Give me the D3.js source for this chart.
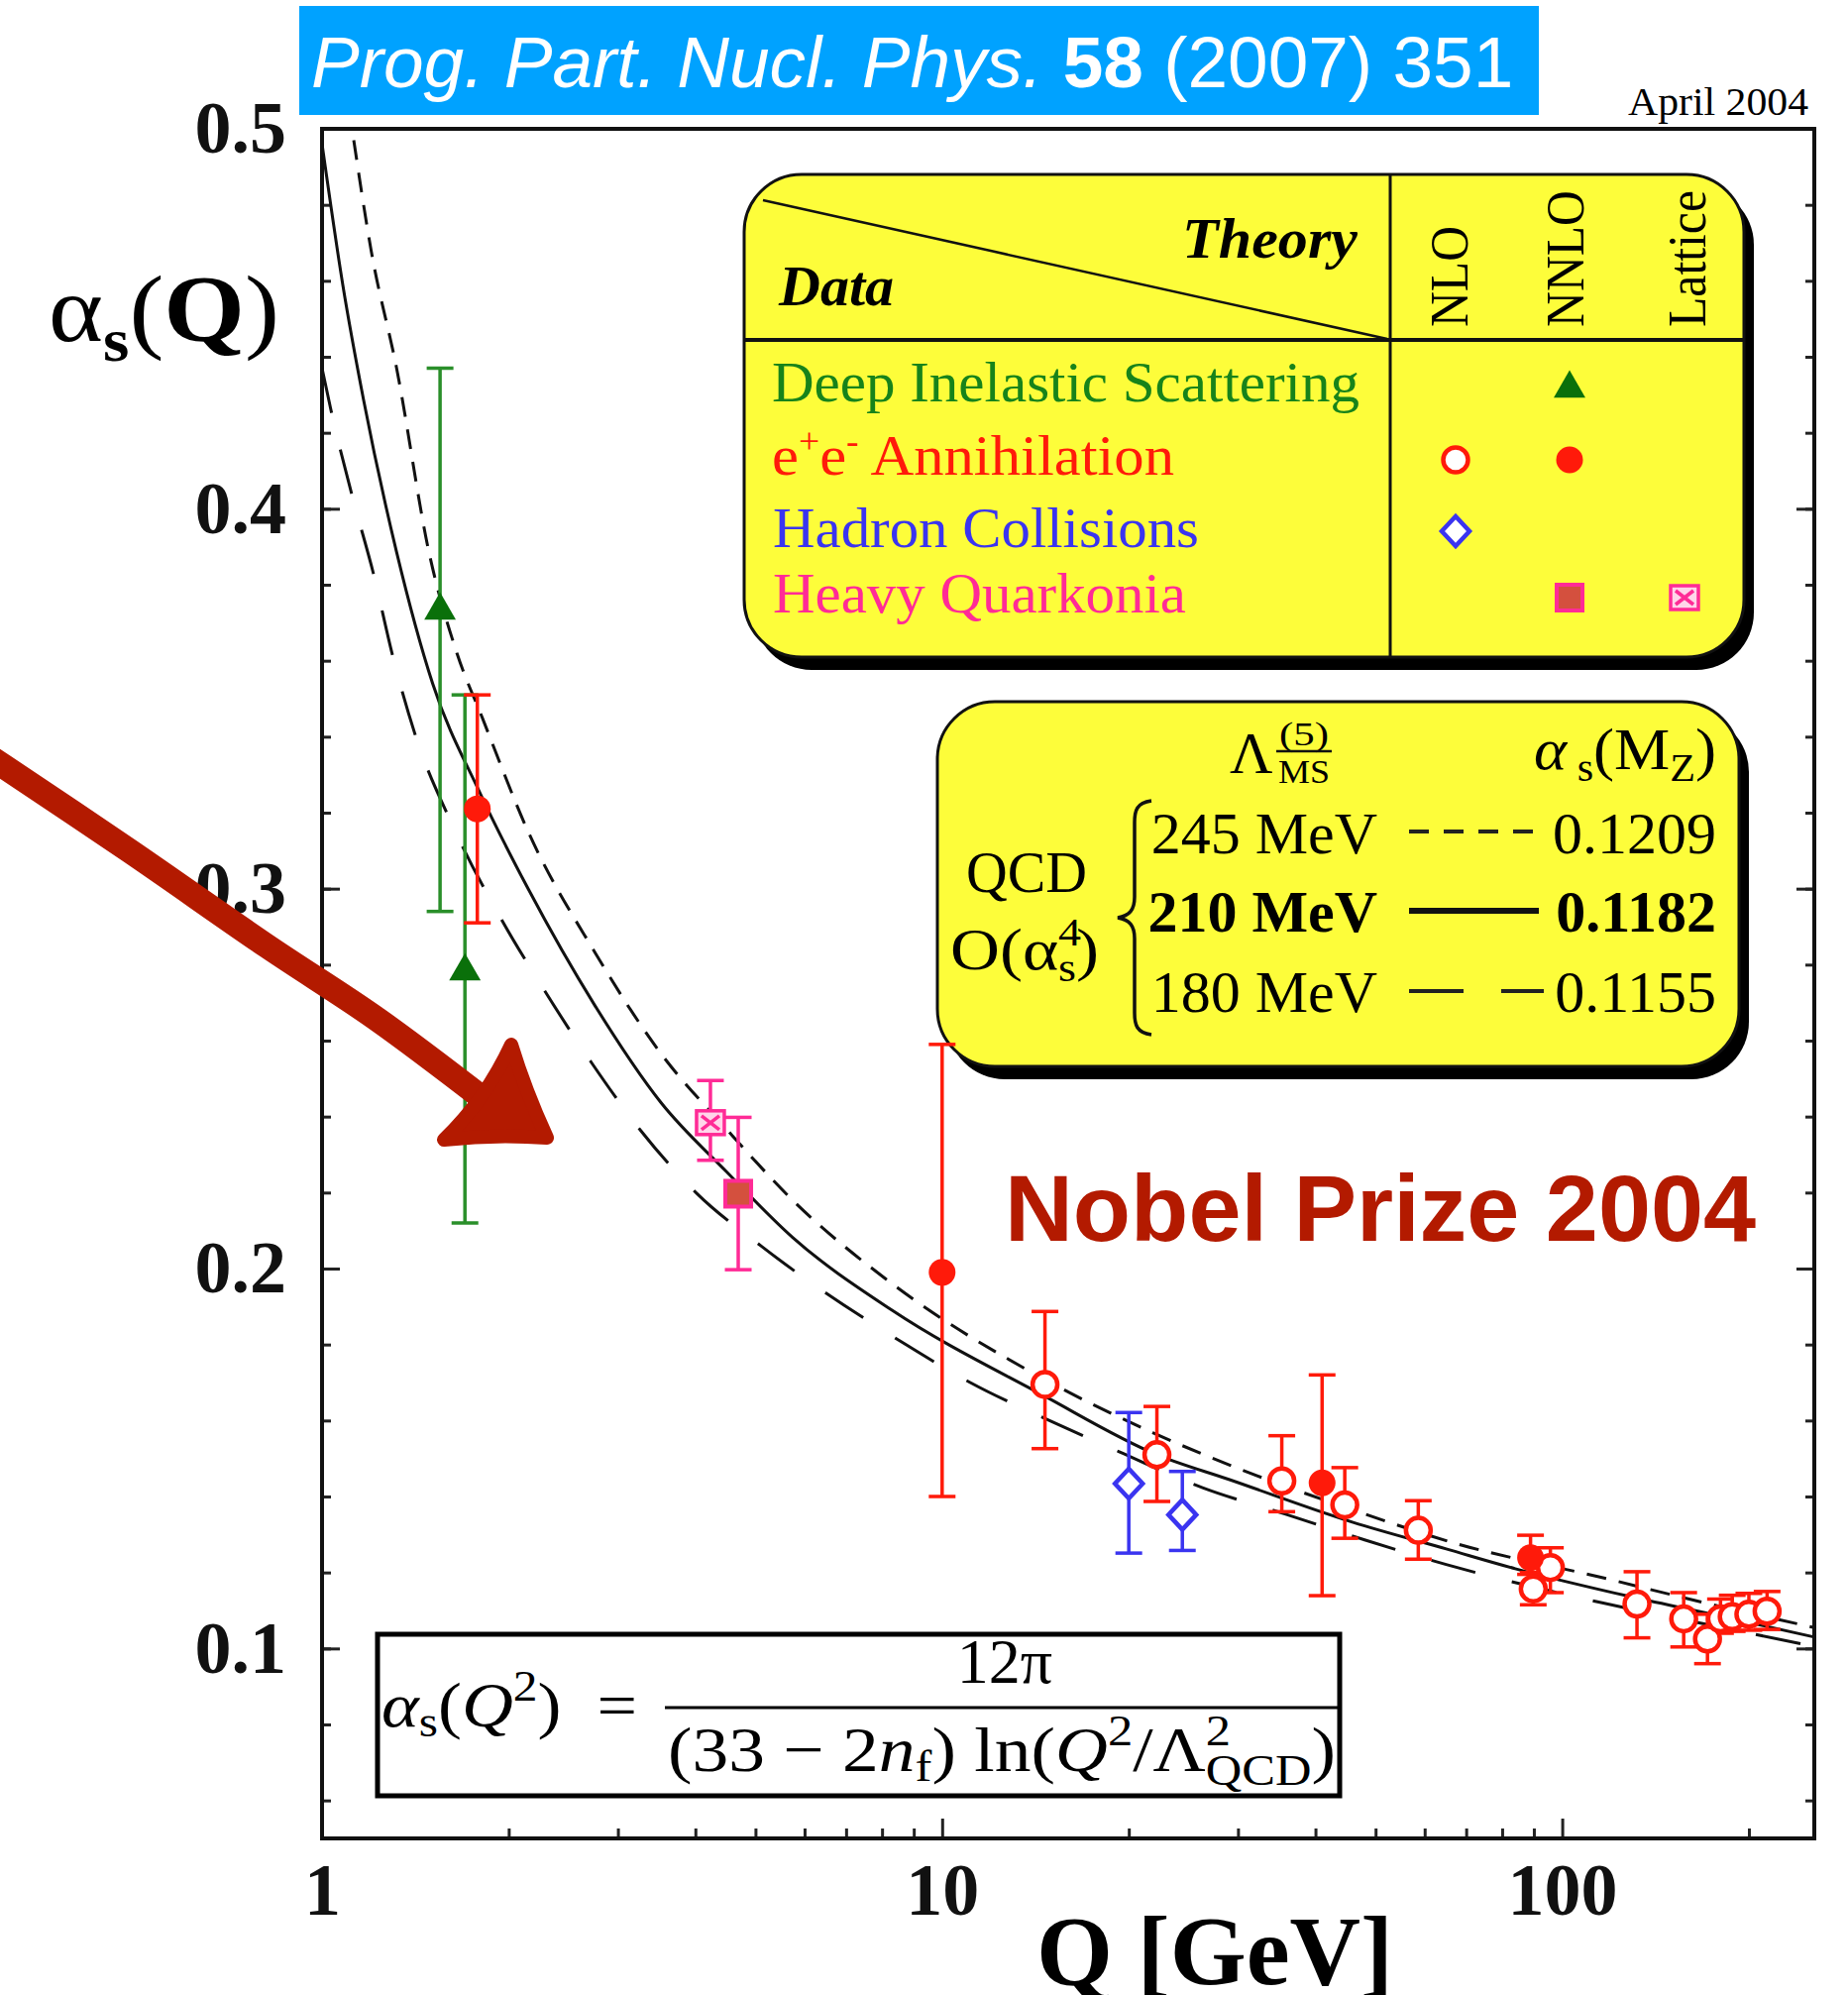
<!DOCTYPE html>
<html>
<head>
<meta charset="utf-8">
<script src="https://cdn.jsdelivr.net/npm/d3@7"></script>
<style>
  body { margin: 0; background: #fff; }
  svg { display: block; }
  text { font-family: 'Liberation Serif', 'Times New Roman', serif; white-space: pre; }
</style>
</head>
<body>
<div id="chart"></div>
<script>
// ---- values ----
const yTicks = [0.1, 0.2, 0.3, 0.4, 0.5];
const xTicks = [1, 10, 100];
const xMinor = [2, 3, 4, 5, 6, 7, 8, 9, 20, 30, 40, 50, 60, 70, 80, 90, 200];

// [Q, alpha_s, low, high]
const disNNLO = [[1.55, 0.374, 0.294, 0.437], [1.70, 0.279, 0.212, 0.351]];
const eeNNLO = [[1.78, 0.321, 0.291, 0.351], [10.0, 0.199, 0.140, 0.259], [41.0, 0.1436, 0.1139, 0.1720], [88.9, 0.1239, 0.1195, 0.1298]];
const eeNLO = [
  [14.65, 0.1695, 0.1526, 0.1887], [22.2, 0.1510, 0.1387, 0.1637], [35.3, 0.1441, 0.1360, 0.1560],
  [44.6, 0.1378, 0.1290, 0.1476], [58.6, 0.1311, 0.1235, 0.1389], [89.8, 0.1157, 0.1115, 0.1200],
  [95.7, 0.1213, 0.1147, 0.1265], [132, 0.1117, 0.1028, 0.1202], [157, 0.1078, 0.1004, 0.1147],
  [171.5, 0.1025, 0.0960, 0.1090], [180, 0.1078, 0.1040, 0.1130], [188, 0.1084, 0.1045, 0.1140],
  [200, 0.1090, 0.1048, 0.1145], [214, 0.1098, 0.1050, 0.1150]
];
const hadronNLO = [[20.0, 0.1434, 0.1251, 0.1621], [24.4, 0.1352, 0.1258, 0.1466]];
const quarkoniaNNLO = [[4.69, 0.2197, 0.1997, 0.2398]];
const quarkoniaLattice = [[4.23, 0.2384, 0.2285, 0.2495]];

// QCD curves [Q, alpha_s]
const curve245 = [[1.125, 0.497], [1.2, 0.468], [1.319, 0.437], [1.49, 0.388], [1.65, 0.362], [1.813, 0.345],
  [2.154, 0.3147], [2.753, 0.2833], [3.52, 0.2566], [4.49, 0.2367], [5.74, 0.218], [8.29, 0.1961],
  [14.6, 0.1709], [22, 0.1566], [31, 0.1465], [45, 0.137], [67.8, 0.1275], [115, 0.1188], [170, 0.112], [255, 0.1055]];
const curve210 = [[1.0, 0.496], [1.08, 0.459], [1.167, 0.4286], [1.319, 0.3886], [1.508, 0.354], [1.8, 0.325],
  [2.154, 0.2997], [2.753, 0.2693], [3.52, 0.2437], [4.49, 0.2255], [5.74, 0.2082], [8.29, 0.1891],
  [14.6, 0.1665], [22.2, 0.151], [29, 0.1445], [46, 0.1332], [65, 0.1262], [84, 0.121], [130, 0.1135], [180, 0.1085], [255, 0.103]];
const curve180 = [[1.0, 0.437], [1.032, 0.4265], [1.118, 0.4035], [1.21, 0.383], [1.303, 0.3606], [1.412, 0.3407],
  [1.634, 0.3157], [1.953, 0.2915], [2.29, 0.2729], [2.72, 0.2542], [3.27, 0.2362], [4.02, 0.2198], [5.11, 0.2059],
  [8.72, 0.1801], [11.1, 0.170], [14.9, 0.160], [19.6, 0.1513], [26.3, 0.1423], [35.7, 0.1354], [48, 0.1286],
  [65, 0.1221], [116, 0.112], [185, 0.1052], [255, 0.1005]];

const legendRows = ['Deep Inelastic Scattering', 'Annihilation', 'Hadron Collisions', 'Heavy Quarkonia'];
const lambdaLabels = ['245 MeV', '210 MeV', '180 MeV'];
const alphaMz = ['0.1209', '0.1182', '0.1155'];

// ---- layout ----
const width = 1865, height = 2013;
const plotL = 325, plotR = 1831, plotT = 130, plotB = 1855;
const green = '#17831a', red = '#ff1a0a', blue = '#3a34f0', pink = '#ff2b96', dark = '#b31a00';
const yellow = '#fdfd3a';

const svg = d3.select('#chart').append('svg')
  .attr('width', width)
  .attr('height', height);

const x = d3.scaleLog().domain([1, 255]).range([plotL, plotR]);
const y = d3.scaleLinear().domain([0.05, 0.5]).range([plotB, plotT]);

// header banner
svg.append('rect').attr('x', 302).attr('y', 6).attr('width', 1251).attr('height', 110).attr('fill', '#00a2ff');
const head = svg.append('text')
  .attr('x', 314).attr('y', 88)
  .attr('fill', '#fff')
  .style('font-family', "'Liberation Sans', Arial, sans-serif")
  .attr('font-size', 73);
head.append('tspan').attr('font-style', 'italic').text('Prog. Part. Nucl. Phys. ');
head.append('tspan').attr('font-weight', 'bold').text('58');
head.append('tspan').text(' (2007) 351');

svg.append('text').attr('x', 1643).attr('y', 116).attr('font-size', 40)
  .attr('textLength', 182).attr('lengthAdjust', 'spacingAndGlyphs').text('April 2004');

// axes
svg.append('clipPath').attr('id', 'clip')
  .append('rect').attr('x', plotL).attr('y', plotT).attr('width', plotR - plotL).attr('height', plotB - plotT);

const styleAxis = g => {
  g.select('.domain').remove();
  g.selectAll('.tick line').attr('stroke', '#222').attr('stroke-width', 3);
  g.selectAll('.tick text')
    .attr('font-size', 74)
    .attr('font-weight', 'bold')
    .attr('fill', '#111')
    .style('font-family', "'Liberation Serif', serif");
};

svg.append('g').attr('transform', `translate(${plotL},0)`)
  .call(d3.axisLeft(y).tickValues(yTicks).tickSize(-18).tickPadding(36).tickFormat(d3.format('.1f')))
  .call(styleAxis);
svg.append('g').attr('transform', `translate(${plotL},0)`)
  .call(d3.axisLeft(y).tickValues(d3.range(0.06, 0.5, 0.02)).tickSize(-9).tickFormat(''))
  .call(styleAxis);
svg.append('g').attr('transform', `translate(${plotR},0)`)
  .call(d3.axisRight(y).tickValues(yTicks).tickSize(-18).tickFormat(''))
  .call(styleAxis);
svg.append('g').attr('transform', `translate(${plotR},0)`)
  .call(d3.axisRight(y).tickValues(d3.range(0.06, 0.5, 0.02)).tickSize(-9).tickFormat(''))
  .call(styleAxis);
svg.append('g').attr('transform', `translate(0,${plotB})`)
  .call(d3.axisBottom(x).tickValues(xTicks).tickSize(-20).tickPadding(24).tickFormat(d => d))
  .call(styleAxis);
svg.append('g').attr('transform', `translate(0,${plotB})`)
  .call(d3.axisBottom(x).tickValues(xMinor).tickSize(-10).tickFormat(''))
  .call(styleAxis);

svg.append('rect')
  .attr('x', plotL).attr('y', plotT)
  .attr('width', plotR - plotL).attr('height', plotB - plotT)
  .attr('fill', 'none').attr('stroke', '#111').attr('stroke-width', 4);

// axis titles
const yt = svg.append('text').attr('x', 49).attr('y', 344).attr('font-size', 96)
  .attr('textLength', 233).attr('lengthAdjust', 'spacingAndGlyphs');
yt.append('tspan').text('α');
yt.append('tspan').attr('font-size', 62).attr('font-weight', 'bold').attr('dy', 20).text('s');
yt.append('tspan').attr('font-size', 96).attr('dy', -20).text('(');
yt.append('tspan').attr('font-weight', 'bold').text('Q');
yt.append('tspan').text(')');

svg.append('text').attr('x', 1046).attr('y', 2002).attr('font-size', 100).attr('font-weight', 'bold')
  .attr('textLength', 360).attr('lengthAdjust', 'spacingAndGlyphs').text('Q [GeV]');

// QCD curves
const line = d3.line().x(d => x(d[0])).y(d => y(d[1])).curve(d3.curveMonotoneX);
const curves = svg.append('g').attr('clip-path', 'url(#clip)')
  .attr('fill', 'none').attr('stroke', '#111').attr('stroke-width', 3);
curves.append('path').datum(curve245).attr('d', line).attr('stroke-dasharray', '20 13');
curves.append('path').datum(curve210).attr('d', line);
curves.append('path').datum(curve180).attr('d', line).attr('stroke-dasharray', '46 38');

// ---- legend box 1 ----
const lg1 = svg.append('g');
lg1.append('rect').attr('x', 761).attr('y', 189).attr('width', 1009).attr('height', 487).attr('rx', 58).attr('fill', '#000');
lg1.append('rect').attr('x', 751).attr('y', 176).attr('width', 1009).attr('height', 487).attr('rx', 58)
  .attr('fill', yellow).attr('stroke', '#111').attr('stroke-width', 3);
lg1.append('line').attr('x1', 751).attr('x2', 1760).attr('y1', 343).attr('y2', 343).attr('stroke', '#111').attr('stroke-width', 4);
lg1.append('line').attr('x1', 1403).attr('x2', 1403).attr('y1', 176).attr('y2', 663).attr('stroke', '#111').attr('stroke-width', 3);
lg1.append('line').attr('x1', 770).attr('y1', 202).attr('x2', 1400).attr('y2', 342).attr('stroke', '#111').attr('stroke-width', 2.5);
lg1.append('text').attr('x', 1193).attr('y', 260).attr('font-size', 58).attr('font-weight', 'bold').attr('font-style', 'italic')
  .attr('textLength', 177).attr('lengthAdjust', 'spacingAndGlyphs').text('Theory');
lg1.append('text').attr('x', 786).attr('y', 308).attr('font-size', 58).attr('font-weight', 'bold').attr('font-style', 'italic')
  .attr('textLength', 116).attr('lengthAdjust', 'spacingAndGlyphs').text('Data');
[['NLO', 1481, 102], ['NNLO', 1598, 138], ['Lattice', 1721, 138]].forEach(([t, bx, len]) => {
  lg1.append('text').attr('transform', `translate(${bx},330) rotate(-90)`).attr('font-size', 54)
    .attr('textLength', len).attr('lengthAdjust', 'spacingAndGlyphs').text(t);
});
lg1.append('text').attr('x', 779).attr('y', 405).attr('font-size', 58).attr('fill', green)
  .attr('textLength', 593).attr('lengthAdjust', 'spacingAndGlyphs').text(legendRows[0]);
const ee = lg1.append('text').attr('x', 779).attr('y', 479).attr('font-size', 58).attr('fill', red)
  .attr('textLength', 406).attr('lengthAdjust', 'spacingAndGlyphs');
ee.append('tspan').text('e');
ee.append('tspan').attr('font-size', 36).attr('dy', -22).text('+');
ee.append('tspan').attr('font-size', 58).attr('dy', 22).text('e');
ee.append('tspan').attr('font-size', 36).attr('dy', -22).text('-');
ee.append('tspan').attr('font-size', 58).attr('dy', 22).text(' ' + legendRows[1]);
lg1.append('text').attr('x', 780).attr('y', 552).attr('font-size', 58).attr('fill', blue)
  .attr('textLength', 430).attr('lengthAdjust', 'spacingAndGlyphs').text(legendRows[2]);
lg1.append('text').attr('x', 780).attr('y', 618).attr('font-size', 58).attr('fill', pink)
  .attr('textLength', 417).attr('lengthAdjust', 'spacingAndGlyphs').text(legendRows[3]);

// ---- legend box 2 ----
const lg2 = svg.append('g');
lg2.append('rect').attr('x', 956).attr('y', 721).attr('width', 809).attr('height', 368).attr('rx', 58).attr('fill', '#000');
lg2.append('rect').attr('x', 946).attr('y', 708).attr('width', 809).attr('height', 368).attr('rx', 58)
  .attr('fill', yellow).attr('stroke', '#111').attr('stroke-width', 3);
lg2.append('text').attr('x', 1241).attr('y', 780).attr('font-size', 60).text('Λ');
lg2.append('text').attr('x', 1291).attr('y', 752).attr('font-size', 34).attr('textLength', 50).attr('lengthAdjust', 'spacingAndGlyphs').text('(5)');
lg2.append('line').attr('x1', 1288).attr('x2', 1344).attr('y1', 758).attr('y2', 758).attr('stroke', '#111').attr('stroke-width', 2.5);
lg2.append('text').attr('x', 1290).attr('y', 790).attr('font-size', 34).attr('textLength', 52).attr('lengthAdjust', 'spacingAndGlyphs').text('MS');
const amz = lg2.append('text').attr('x', 1548).attr('y', 776).attr('font-size', 60)
  .attr('textLength', 184).attr('lengthAdjust', 'spacingAndGlyphs');
amz.append('tspan').attr('font-style', 'italic').text('α');
amz.append('tspan').attr('font-size', 40).attr('dy', 12).text(' s');
amz.append('tspan').attr('font-size', 60).attr('dy', -12).text('(M');
amz.append('tspan').attr('font-size', 40).attr('dy', 12).text('Z');
amz.append('tspan').attr('font-size', 60).attr('dy', -12).text(')');
lg2.append('text').attr('x', 975).attr('y', 900).attr('font-size', 60)
  .attr('textLength', 122).attr('lengthAdjust', 'spacingAndGlyphs').text('QCD');
const ord = lg2.append('text').attr('x', 959).attr('y', 978).attr('font-size', 60)
  .attr('textLength', 150).attr('lengthAdjust', 'spacingAndGlyphs');
ord.append('tspan').text('O(α');
ord.append('tspan').attr('font-size', 40).attr('dy', -24).text('4');
ord.append('tspan').attr('font-size', 40).attr('dx', -20).attr('dy', 36).text('s');
ord.append('tspan').attr('font-size', 60).attr('dy', -12).text(')');
lg2.append('path')
  .attr('d', 'M1162,808 C1147,810 1145,818 1145,830 L1145,905 C1145,918 1140,924 1128,926 C1140,928 1145,934 1145,947 L1145,1022 C1145,1034 1147,1042 1162,1044')
  .attr('fill', 'none').attr('stroke', '#111').attr('stroke-width', 3.5);
const rowY = [861, 940, 1021], lineY = [839, 919, 1000];
lambdaLabels.forEach((t, i) => {
  lg2.append('text').attr('x', 1390).attr('y', rowY[i]).attr('text-anchor', 'end').attr('font-size', 60)
    .attr('font-weight', i === 1 ? 'bold' : 'normal').text(t);
  lg2.append('text').attr('x', 1732).attr('y', rowY[i]).attr('text-anchor', 'end').attr('font-size', 60)
    .attr('font-weight', i === 1 ? 'bold' : 'normal').text(alphaMz[i]);
});
lg2.append('line').attr('x1', 1422).attr('x2', 1547).attr('y1', lineY[0]).attr('y2', lineY[0])
  .attr('stroke', '#222').attr('stroke-width', 4).attr('stroke-dasharray', '20 15');
lg2.append('line').attr('x1', 1422).attr('x2', 1553).attr('y1', lineY[1]).attr('y2', lineY[1])
  .attr('stroke', '#111').attr('stroke-width', 6);
lg2.append('line').attr('x1', 1422).attr('x2', 1558).attr('y1', lineY[2]).attr('y2', lineY[2])
  .attr('stroke', '#222').attr('stroke-width', 4).attr('stroke-dasharray', '55 38');

// ---- symbols ----
const triPath = d3.symbol().type(d3.symbolTriangle).size(440)();
const diamondPath = 'M0,-15 L14,0 L0,15 L-14,0 Z';
const drawTri = (g, cx, cy) => g.append('path').attr('d', triPath).attr('transform', `translate(${cx},${cy + 3})`).attr('fill', '#0a700a');
const drawDot = (g, cx, cy) => g.append('circle').attr('cx', cx).attr('cy', cy).attr('r', 13.5).attr('fill', red);
const drawRing = (g, cx, cy) => g.append('circle').attr('cx', cx).attr('cy', cy).attr('r', 12.5).attr('fill', '#fff').attr('stroke', red).attr('stroke-width', 4.5);
const drawDiamond = (g, cx, cy) => g.append('path').attr('d', diamondPath).attr('transform', `translate(${cx},${cy})`)
  .attr('fill', '#fff').attr('stroke', blue).attr('stroke-width', 4.5);
const drawSquare = (g, cx, cy) => g.append('rect').attr('x', cx - 13).attr('y', cy - 13).attr('width', 26).attr('height', 26)
  .attr('fill', '#d4503e').attr('stroke', pink).attr('stroke-width', 4);
const drawLattice = (g, cx, cy) => {
  const s = g.append('g').attr('transform', `translate(${cx},${cy})`).attr('stroke', pink).attr('stroke-width', 3.5);
  s.append('rect').attr('x', -14).attr('y', -12).attr('width', 28).attr('height', 24).attr('fill', '#ffd6ea');
  s.append('path').attr('d', 'M-9,-7 L9,7 M-9,7 L9,-7').attr('fill', 'none');
};

// legend markers
drawTri(lg1, 1584, 389);
drawRing(lg1, 1469, 464);
drawDot(lg1, 1584, 464);
drawDiamond(lg1, 1469, 536);
drawSquare(lg1, 1584, 603);
drawLattice(lg1, 1700, 603);

// ---- data with error bars ----
const data = svg.append('g');
function errorBars(rows, color) {
  const g = data.append('g').attr('stroke', color).attr('stroke-width', 3.5);
  g.selectAll('.v').data(rows).join('line')
    .attr('x1', d => x(d[0])).attr('x2', d => x(d[0]))
    .attr('y1', d => y(d[2])).attr('y2', d => y(d[3]));
  [2, 3].forEach(k => {
    g.selectAll('.c' + k).data(rows).join('line')
      .attr('x1', d => x(d[0]) - 13.5).attr('x2', d => x(d[0]) + 13.5)
      .attr('y1', d => y(d[k])).attr('y2', d => y(d[k]));
  });
}
errorBars(disNNLO, '#2a8f2a');
errorBars(quarkoniaLattice, pink);
errorBars(quarkoniaNNLO, pink);
errorBars(hadronNLO, blue);
errorBars(eeNLO, red);
errorBars(eeNNLO, red);

disNNLO.forEach(d => drawTri(data, x(d[0]), y(d[1])));
quarkoniaLattice.forEach(d => drawLattice(data, x(d[0]), y(d[1])));
quarkoniaNNLO.forEach(d => drawSquare(data, x(d[0]), y(d[1])));
hadronNLO.forEach(d => drawDiamond(data, x(d[0]), y(d[1])));
eeNLO.forEach(d => drawRing(data, x(d[0]), y(d[1])));
eeNNLO.forEach(d => drawDot(data, x(d[0]), y(d[1])));

// ---- formula box ----
const fm = svg.append('g');
fm.append('rect').attr('x', 381).attr('y', 1649).attr('width', 971).attr('height', 163)
  .attr('fill', '#fff').attr('stroke', '#000').attr('stroke-width', 5);
const lhs = fm.append('text').attr('x', 385).attr('y', 1742).attr('font-size', 64)
  .attr('textLength', 258).attr('lengthAdjust', 'spacingAndGlyphs');
lhs.append('tspan').attr('font-style', 'italic').text('α');
lhs.append('tspan').attr('font-size', 44).attr('dy', 10).text('s');
lhs.append('tspan').attr('font-size', 64).attr('dy', -10).text('(');
lhs.append('tspan').attr('font-style', 'italic').text('Q');
lhs.append('tspan').attr('font-size', 44).attr('dy', -26).text('2');
lhs.append('tspan').attr('font-size', 64).attr('dy', 26).text(')  =');
fm.append('text').attr('x', 1014).attr('y', 1698).attr('text-anchor', 'middle').attr('font-size', 64).text('12π');
fm.append('line').attr('x1', 671).attr('x2', 1352).attr('y1', 1723).attr('y2', 1723).attr('stroke', '#000').attr('stroke-width', 3);
const den = fm.append('text').attr('x', 674).attr('y', 1787).attr('font-size', 64)
  .attr('textLength', 674).attr('lengthAdjust', 'spacingAndGlyphs');
den.append('tspan').text('(33 − 2');
den.append('tspan').attr('font-style', 'italic').text('n');
den.append('tspan').attr('font-size', 44).attr('dy', 10).text('f');
den.append('tspan').attr('font-size', 64).attr('dy', -10).text(') ln(');
den.append('tspan').attr('font-style', 'italic').text('Q');
den.append('tspan').attr('font-size', 44).attr('dy', -26).text('2');
den.append('tspan').attr('font-size', 64).attr('dy', 26).text('/Λ');
den.append('tspan').attr('font-size', 44).attr('dy', -26).text('2');
den.append('tspan').attr('font-size', 44).attr('dx', -22).attr('dy', 40).text('QCD');
den.append('tspan').attr('font-size', 64).attr('dy', -14).text(')');

// ---- hand-drawn arrow and note ----
const arrowShaft = [[-10, 764], [130, 858], [270, 955], [380, 1028], [492, 1112]];
svg.append('path').datum(arrowShaft)
  .attr('d', d3.line().curve(d3.curveCatmullRom))
  .attr('fill', 'none').attr('stroke', dark).attr('stroke-width', 25)
  .attr('stroke-linecap', 'round').attr('stroke-linejoin', 'round');
svg.append('path').attr('d', 'M448,1150 Q490,1110 516,1054 Q530,1100 552,1148 Q500,1144 448,1150 Z')
  .attr('fill', dark).attr('stroke', dark).attr('stroke-width', 14).attr('stroke-linejoin', 'round');

svg.append('text').attr('x', 1014).attr('y', 1252)
  .style('font-family', "'Liberation Sans', Arial, sans-serif")
  .attr('font-size', 95).attr('font-weight', 'bold').attr('fill', dark)
  .attr('textLength', 758).attr('lengthAdjust', 'spacingAndGlyphs')
  .text('Nobel Prize 2004');
</script>
</body>
</html>
